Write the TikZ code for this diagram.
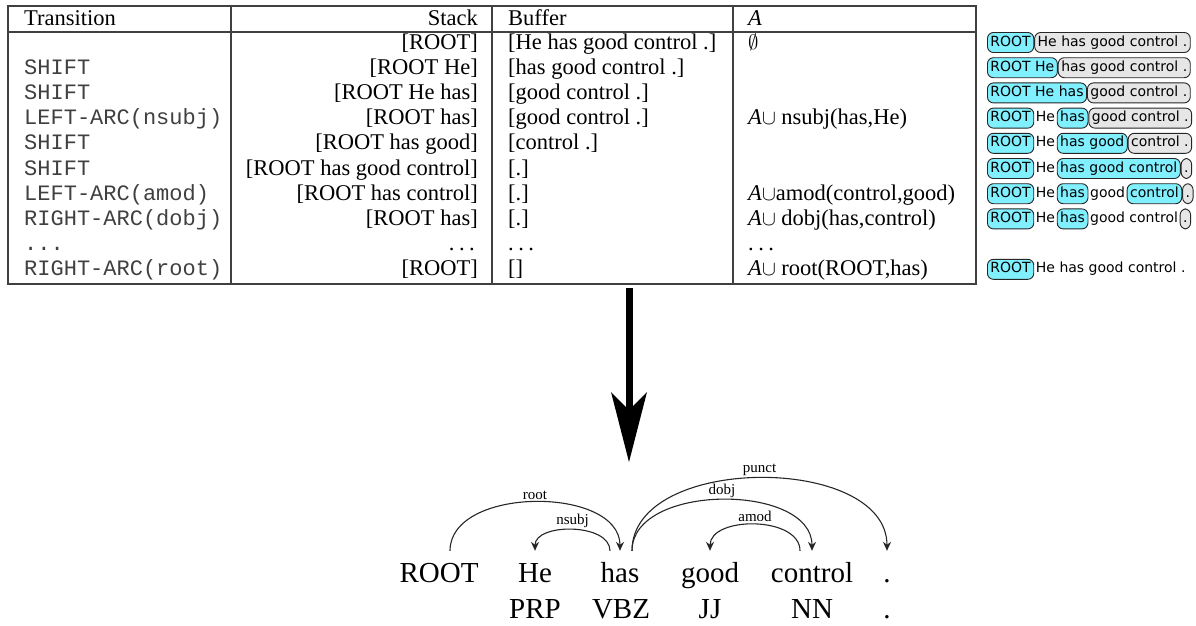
\documentclass[tikz,border=0pt]{standalone}
\usepackage{fontspec}
\setmainfont{Liberation Serif}
\setmonofont{Liberation Mono}
\newfontfamily\dvsans{DejaVu Sans}
\usetikzlibrary{arrows.meta}
\definecolor{stackfill}{HTML}{80F0FF}
\definecolor{bufffill}{HTML}{E6E6E6}
\newcommand\spdots{.\kern0.2em.\kern0.2em.}

\begin{document}
\begin{tikzpicture}[x=1pt,y=-1pt,
  cell/.style={inner sep=0pt, font=\fontsize{22.5}{25}\selectfont},
  trans/.style={inner sep=0pt, anchor=base west, text=black!75,
                font=\ttfamily\fontsize{22}{25}\selectfont},
  lcell/.style={cell, anchor=base west},
  rcell/.style={cell, anchor=base east},
  rule/.style={draw=black!75, line width=1.2pt},
  pbox/.style={draw=black!85, line width=0.9pt, rounded corners=6pt,
               inner xsep=3pt, inner ysep=3.5pt, text height=10pt, text depth=3pt,
               anchor=west, font=\dvsans\fontsize{14}{16}\selectfont},
  sbox/.style={pbox, fill=stackfill},
  bbox/.style={pbox, fill=bufffill},
  ptxt/.style={inner xsep=1.5pt, inner ysep=3.5pt, text height=10pt, text depth=3pt,
               anchor=west, font=\dvsans\fontsize{14}{16}\selectfont},
  word/.style={font=\fontsize{29}{30}\selectfont, anchor=base, inner xsep=0pt,
               inner ysep=11pt, text height=20pt, text depth=0pt},
  tag/.style={font=\fontsize{29}{30}\selectfont, anchor=base, inner sep=0pt},
  arc/.style={draw=black!85, line width=1.1pt,
              -{Stealth[length=9pt,width=8pt,inset=3pt]}},
  lbl/.style={font=\fontsize{15}{16}\selectfont, inner sep=1pt, above=1pt}
]
\useasboundingbox (0,0) rectangle (1196,625);

% ---------- transition table: frame and rules ----------
\draw[rule] (8,6) rectangle (976,284);
\draw[rule] (8,32) -- (976,32);
\draw[rule] (231,6) -- (231,284);
\draw[rule] (492,6) -- (492,284);
\draw[rule] (733,6) -- (733,284);

% header
\node[lcell] (hT) at (24,25)  {Transition};
\node[rcell] (hS) at (478,25) {Stack};
\node[lcell] (hB) at (508,25) {Buffer};
\node[lcell] (hA) at (748,25) {\textit{A}};

% row 1
\node[rcell] (s1) at (478,49) {[ROOT]};
\node[lcell] (b1) at (508,49) {[He has good control .]};
\node[lcell] (a1) at (748,49) {$\emptyset$};
% row 2
\node[trans] (t2) at (24,74.2)  {SHIFT};
\node[rcell] (s2) at (478,74.2) {[ROOT He]};
\node[lcell] (b2) at (508,74.2) {[has good control .]};
% row 3
\node[trans] (t3) at (24,99.4)  {SHIFT};
\node[rcell] (s3) at (478,99.4) {[ROOT He has]};
\node[lcell] (b3) at (508,99.4) {[good control .]};
% row 4
\node[trans] (t4) at (24,124.6)  {LEFT-ARC(nsubj)};
\node[rcell] (s4) at (478,124.6) {[ROOT has]};
\node[lcell] (b4) at (508,124.6) {[good control .]};
\node[lcell] (a4) at (748,124.6) {\textit{A}$\cup$ nsubj(has,He)};
% row 5
\node[trans] (t5) at (24,149.8)  {SHIFT};
\node[rcell] (s5) at (478,149.8) {[ROOT has good]};
\node[lcell] (b5) at (508,149.8) {[control .]};
% row 6
\node[trans] (t6) at (24,175)  {SHIFT};
\node[rcell] (s6) at (478,175) {[ROOT has good control]};
\node[lcell] (b6) at (508,175) {[.]};
% row 7
\node[trans] (t7) at (24,200.2)  {LEFT-ARC(amod)};
\node[rcell] (s7) at (478,200.2) {[ROOT has control]};
\node[lcell] (b7) at (508,200.2) {[.]};
\node[lcell] (a7) at (748,200.2) {\textit{A}$\cup$amod(control,good)};
% row 8
\node[trans] (t8) at (24,225.4)  {RIGHT-ARC(dobj)};
\node[rcell] (s8) at (478,225.4) {[ROOT has]};
\node[lcell] (b8) at (508,225.4) {[.]};
\node[lcell] (a8) at (748,225.4) {\textit{A}$\cup$ dobj(has,control)};
% row 9
\node[trans] (t9) at (24,250.6)  {...};
\node[rcell] (s9) at (475,250.6) {\spdots};
\node[lcell] (b9) at (508,250.6) {\spdots};
\node[lcell] (a9) at (748,250.6) {\spdots};
% row 10
\node[trans] (t10) at (24,275.8)  {RIGHT-ARC(root)};
\node[rcell] (s10) at (478,275.8) {[ROOT]};
\node[lcell] (b10) at (508,275.8) {[]};
\node[lcell] (a10) at (748,275.8) {\textit{A}$\cup$ root(ROOT,has)};

% ---------- stack / buffer strips ----------
\node[sbox] (p1a) at (987,42.5) {ROOT};
\node[bbox] (p1b) at (p1a.east) {He has good control .};

\node[sbox] (p2a) at (987,67.7) {ROOT He};
\node[bbox] (p2b) at (p2a.east) {has good control .};

\node[sbox] (p3a) at (987,92.9) {ROOT He has};
\node[bbox] (p3b) at (p3a.east) {good control .};

\node[sbox] (p4a) at (987,118.1) {ROOT};
\node[ptxt] (p4b) at (p4a.east) {He};
\node[sbox] (p4c) at (p4b.east) {has};
\node[bbox] (p4d) at (p4c.east) {good control .};

\node[sbox] (p5a) at (987,143.3) {ROOT};
\node[ptxt] (p5b) at (p5a.east) {He};
\node[sbox] (p5c) at (p5b.east) {has good};
\node[bbox] (p5d) at (p5c.east) {control .};

\node[sbox] (p6a) at (987,168.5) {ROOT};
\node[ptxt] (p6b) at (p6a.east) {He};
\node[sbox] (p6c) at (p6b.east) {has good control};
\node[bbox] (p6d) at (p6c.east) {.};

\node[sbox] (p7a) at (987,193.7) {ROOT};
\node[ptxt] (p7b) at (p7a.east) {He};
\node[sbox] (p7c) at (p7b.east) {has};
\node[ptxt] (p7d) at (p7c.east) {good};
\node[sbox] (p7e) at (p7d.east) {control};
\node[bbox] (p7f) at (p7e.east) {.};

\node[sbox] (p8a) at (987,218.9) {ROOT};
\node[ptxt] (p8b) at (p8a.east) {He};
\node[sbox] (p8c) at (p8b.east) {has};
\node[ptxt] (p8d) at (p8c.east) {good control};
\node[bbox] (p8e) at (p8d.east) {.};

\node[sbox] (p10a) at (987,269.3) {ROOT};
\node[ptxt] (p10b) at (p10a.east) {He has good control .};

% ---------- big arrow down to the tree ----------
\coordinate (bigtop) at (629,288);
\coordinate (bigtip) at (629,462);
\draw[line width=7pt, -{Stealth[length=70pt,width=36pt,inset=18pt,line width=0pt]}]
  (bigtop) -- (bigtip);

% ---------- dependency tree ----------
\node[word] (wROOT) at (439,582) {ROOT};
\node[word] (wHe)   at (535,582) {He};
\node[word] (whas)  at (620,582) {has};
\node[word] (wgood) at (710,582) {good};
\node[word] (wctl)  at (812,582) {control};
\node[word] (wdot)  at (887,582) {.};

\node[tag] (gPRP) at (535,618) {PRP};
\node[tag] (gVBZ) at (621,618) {VBZ};
\node[tag] (gJJ)  at (710,618) {JJ};
\node[tag] (gNN)  at (812,618) {NN};
\node[tag] (gdot) at (887,618) {.};

\draw[arc] ([xshift=11pt]wROOT.north) .. controls +(0,-65) and +(0,-65) .. (whas.north)
  node[midway, lbl] (lroot) {root};
\draw[arc] ([xshift=-10pt]whas.north) .. controls +(0,-28) and +(0,-28) .. (wHe.north)
  node[midway, lbl] (lnsubj) {nsubj};
\draw[arc] ([xshift=12pt]whas.north) .. controls +(0,-68) and +(0,-68) .. (wctl.north)
  node[midway, lbl] (ldobj) {dobj};
\draw[arc] ([xshift=12pt]whas.north) .. controls +(0,-97) and +(0,-97) .. (wdot.north)
  node[midway, lbl] (lpunct) {punct};
\draw[arc] ([xshift=-12pt]wctl.north) .. controls +(0,-35) and +(0,-35) .. (wgood.north)
  node[midway, lbl] (lamod) {amod};
\end{tikzpicture}
\end{document}
